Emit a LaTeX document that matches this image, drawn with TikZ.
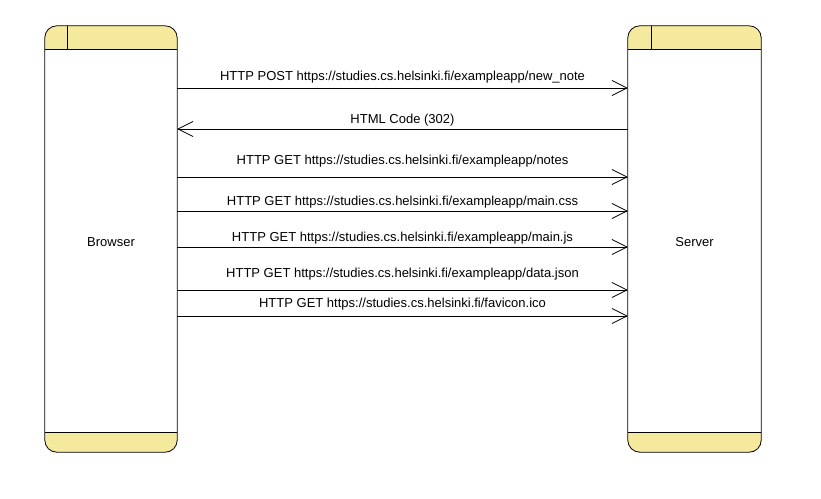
\documentclass[tikz,border=0pt]{standalone}
\usepackage{fontspec}
\setmainfont{Liberation Sans}
\usepackage{xcolor}
\usetikzlibrary{arrows.meta,positioning}
\definecolor{bandyellow}{RGB}{245,233,158}

\begin{document}
\begin{tikzpicture}[
    x=1pt, y=-1pt,
    lifeline/.style={minimum height=426pt, inner sep=0pt},
    lifelabel/.style={font=\fontsize{13}{15}\selectfont, inner sep=0pt},
    msg/.style={-{Straight Barb[length=15pt,width=15pt]}, line width=0.8pt},
    msglabel/.style={font=\fontsize{13}{15}\selectfont, inner sep=0pt},
]
\useasboundingbox (0,0) rectangle (821,498);

% === Lifelines ===
\node[lifeline, minimum width=132pt] (browser) at (111,239) {};
\node[lifeline, minimum width=133pt] (server) at (694.5,239) {};

\foreach \n/\d in {browser/23, server/24}{
    \begin{scope}
        \clip[rounded corners=12pt] (\n.south west) rectangle (\n.north east);
        \fill[bandyellow] (\n.north west) rectangle ([yshift=-24pt]\n.north east);
        \fill[bandyellow] ([yshift=20pt]\n.south west) rectangle (\n.south east);
    \end{scope}
    \draw[line width=0.8pt] ([yshift=-24pt]\n.north west) -- ([yshift=-24pt]\n.north east);
    \draw[line width=0.8pt] ([yshift=20pt]\n.south west) -- ([yshift=20pt]\n.south east);
    \draw[line width=0.8pt] ([xshift=\d pt]\n.north west) -- ([xshift=\d pt, yshift=-24pt]\n.north west);
    \draw[line width=0.8pt, rounded corners=12pt] (\n.south west) rectangle (\n.north east);
}

\node[lifelabel, yshift=-3pt] (browserlabel) at (browser.center) {Browser};
\node[lifelabel, yshift=-3pt] (serverlabel) at (server.center) {Server};

% === Messages ===
\draw[msg] (browser.east |- 0,88) -- node[msglabel, yshift=11pt] {HTTP POST https://studies.cs.helsinki.fi/exampleapp/new\_note} (server.west |- 0,88);
\draw[msg] (server.west |- 0,129) -- node[msglabel, yshift=9pt] {HTML Code (302)} (browser.east |- 0,129);
\draw[msg] (browser.east |- 0,177) -- node[msglabel, yshift=16pt] {HTTP GET https://studies.cs.helsinki.fi/exampleapp/notes} (server.west |- 0,177);
\draw[msg] (browser.east |- 0,211) -- node[msglabel, yshift=9pt] {HTTP GET https://studies.cs.helsinki.fi/exampleapp/main.css} (server.west |- 0,211);
\draw[msg] (browser.east |- 0,247) -- node[msglabel, yshift=9pt] {HTTP GET https://studies.cs.helsinki.fi/exampleapp/main.js} (server.west |- 0,247);
\draw[msg] (browser.east |- 0,290) -- node[msglabel, yshift=16pt] {HTTP GET https://studies.cs.helsinki.fi/exampleapp/data.json} (server.west |- 0,290);
\draw[msg] (browser.east |- 0,316) -- node[msglabel, yshift=12pt] {HTTP GET https://studies.cs.helsinki.fi/favicon.ico} (server.west |- 0,316);

\end{tikzpicture}
\end{document}
